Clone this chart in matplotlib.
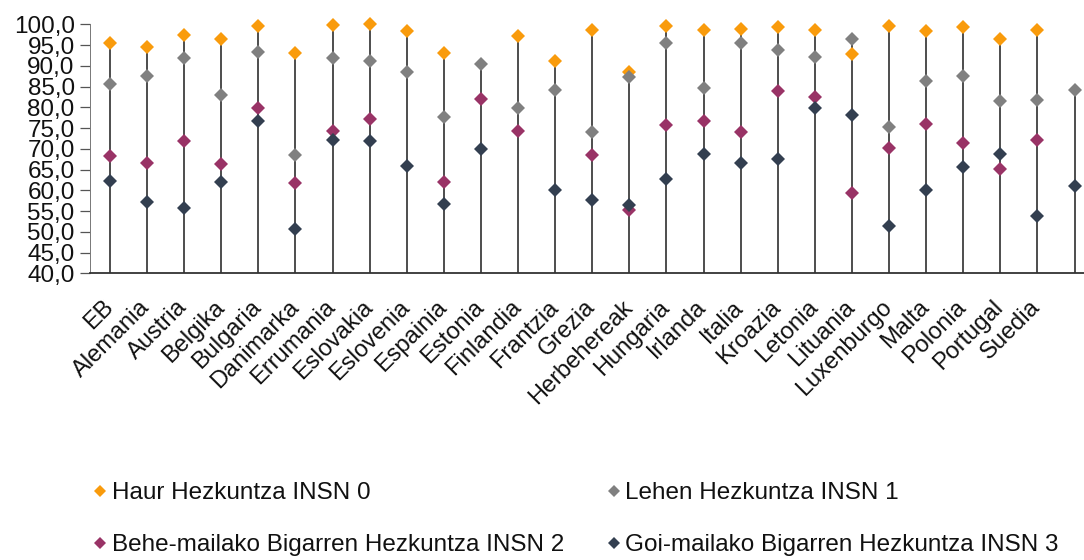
import matplotlib
matplotlib.use("Agg")
import matplotlib.pyplot as plt
import numpy as np
from matplotlib.lines import Line2D
from matplotlib.transforms import ScaledTranslation, blended_transform_factory

nan = np.nan

categories = ["EB", "Alemania", "Austria", "Belgika", "Bulgaria", "Danimarka",
              "Errumania", "Eslovakia", "Eslovenia", "Espainia", "Estonia",
              "Finlandia", "Frantzia", "Grezia", "Herbehereak", "Hungaria",
              "Irlanda", "Italia", "Kroazia", "Letonia", "Lituania",
              "Luxenburgo", "Malta", "Polonia", "Portugal", "Suedia", ""]

haur = [95.6, 94.5, 97.5, 96.4, 99.5, 93.0, 99.9, 100.0, 98.3, 93.2, nan,
        97.3, 91.2, 98.7, 88.4, 99.7, 98.7, 98.9, 99.4, 98.6, 92.8, 99.7,
        98.4, 99.3, 96.5, 98.6, nan]
lehen = [85.6, 87.5, 91.8, 82.9, 93.3, 68.4, 91.8, 91.2, 88.4, 77.7, 90.4,
         79.8, 84.2, 74.0, 87.2, 95.6, 84.7, 95.5, 93.7, 92.2, 96.5, 75.2,
         86.3, 87.5, 81.4, 81.8, 84.2]
behe = [68.3, 66.5, 72.0, 66.3, 79.8, 61.8, 74.2, 77.1, nan, 61.9, 81.9,
        74.4, nan, 68.4, 55.3, 75.8, 76.8, 74.0, 83.9, 82.6, 59.4, 70.3,
        76.0, 71.5, 65.2, 72.1, nan]
goi = [62.2, 57.3, 55.7, 61.9, 76.8, 50.7, 72.1, 71.8, 65.9, 56.7, 69.9,
       nan, 60.0, 57.6, 56.5, 62.8, 68.8, 66.5, 67.5, 79.8, 78.2, 51.4,
       60.1, 65.7, 68.7, 53.9, 61.0]

series_names = ["Haur Hezkuntza INSN 0", "Lehen Hezkuntza INSN 1",
                "Behe-mailako Bigarren Hezkuntza INSN 2",
                "Goi-mailako Bigarren Hezkuntza INSN 3"]
series_colors = ["#F99B0C", "#808080", "#993366", "#333F50"]
y_ticks = [40, 45, 50, 55, 60, 65, 70, 75, 80, 85, 90, 95, 100]

FONT = "Liberation Sans"
plt.rcParams["font.family"] = [FONT, "DejaVu Sans"]

W, H = 1084, 560
fig = plt.figure(figsize=(W / 100, H / 100), dpi=100)
ax = fig.add_axes([90 / W, 1 - 273.3 / H, 994 / W, 249 / H])

x = np.arange(len(categories))
all_series = [haur, lehen, behe, goi]
data = np.array(all_series, dtype=float)
tops = np.nanmax(data, axis=0)

ax.vlines(x, y_ticks[0], tops, color="#3f3f3f", lw=1.3, zorder=1)
for vals, col, name in zip(all_series, series_colors, series_names):
    ax.plot(x, vals, ls="none", marker="D", ms=7.0, mew=0, color=col,
            zorder=3, label=name, clip_on=False)

ax.set_xlim(-0.539, 26.256)
ax.set_ylim(y_ticks[0], y_ticks[-1])
ax.set_yticks(y_ticks)
ax.set_yticklabels([f"{v:.1f}".replace(".", ",") for v in y_ticks],
                   fontsize=17.5, color="#111111")
ax.tick_params(axis="y", length=7, width=0.9, color="#555555", pad=4)
ax.set_xticks([])

for s in ["top", "right"]:
    ax.spines[s].set_visible(False)
ax.spines["left"].set_color("#777777")
ax.spines["left"].set_linewidth(0.7)
ax.spines["bottom"].set_color("#333333")
ax.spines["bottom"].set_linewidth(1.3)

# rotated category labels
trans = blended_transform_factory(ax.transData, ax.transAxes) + \
    ScaledTranslation(4 / 100, -35 / 100, fig.dpi_scale_trans)
for xi, lab in zip(x, categories):
    ax.text(xi, 0, lab, transform=trans, rotation=45, rotation_mode="anchor",
            ha="right", va="baseline", fontsize=17, color="#111111")

# legend in row-major order (matplotlib fills columns first)
order = [0, 2, 1, 3]
handles = [Line2D([], [], ls="none", marker="D", ms=6.5, mew=0,
                  color=series_colors[i]) for i in order]
labels = [series_names[i] for i in order]
fig.legend(handles, labels, ncol=2, loc="upper left",
           bbox_to_anchor=(94 / W, 1 - 482 / H), frameon=False,
           fontsize=17.5, handlelength=0.5, handletextpad=0.22,
           columnspacing=1.8, labelspacing=1.25, borderpad=0,
           borderaxespad=0, labelcolor="#111111")

fig.savefig("out.png", dpi=100)
